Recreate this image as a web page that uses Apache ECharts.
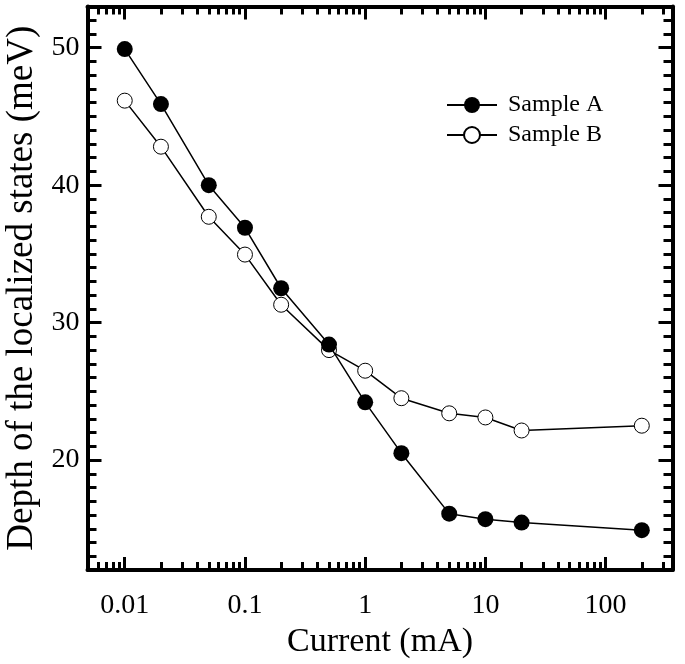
<!DOCTYPE html>
<html><head><meta charset="utf-8">
<script src="https://cdn.jsdelivr.net/npm/echarts@6/dist/echarts.min.js"></script>
<style>html,body{margin:0;padding:0;background:#fff}#c{width:685px;height:664px}</style>
</head><body><div id="c"></div>
<script>
const currents = [0.01, 0.02, 0.05, 0.1, 0.2, 0.5, 1, 2, 5, 10, 20, 200];
const sampleA = [49.9, 45.9, 40.0, 36.9, 32.5, 28.4, 24.2, 20.5, 16.1, 15.7, 15.45, 14.9];
const sampleB = [46.15, 42.8, 37.7, 34.95, 31.3, 28.0, 26.5, 24.5, 23.4, 23.1, 22.15, 22.5];
const xMajorTicks = [0.01, 0.1, 1, 10, 100];
const xMajorLabels = ['0.01', '0.1', '1', '10', '100'];
const xMinorTicks = [0.005, 0.006, 0.007, 0.008, 0.009,
  0.02, 0.03, 0.04, 0.05, 0.06, 0.07, 0.08, 0.09,
  0.2, 0.3, 0.4, 0.5, 0.6, 0.7, 0.8, 0.9,
  2, 3, 4, 5, 6, 7, 8, 9,
  20, 30, 40, 50, 60, 70, 80, 90,
  200, 300];
const yMajorTicks = [20, 30, 40, 50];
const yMinorTicks = [13, 14, 15, 16, 17, 18, 19, 21, 22, 23, 24, 25, 26, 27, 28, 29,
  31, 32, 33, 34, 35, 36, 37, 38, 39, 41, 42, 43, 44, 45, 46, 47, 48, 49, 51, 52];

const FONT = '"Liberation Serif", "DejaVu Serif", serif';
const xMin = 0.0049, xMax = 360, yMin = 12, yMax = 53;

function xLabel(v) {
  let best = 0, bd = Infinity;
  xMajorTicks.forEach((t, i) => { const d = Math.abs(Math.log10(v) - Math.log10(t)); if (d < bd) { bd = d; best = i; } });
  return xMajorLabels[best];
}

function xAxisDef(pos, ticks, len, showLine, showLabel) {
  return {
    type: 'log', logBase: 10, min: xMin, max: xMax, position: pos,
    axisLine: { show: showLine, onZero: false, lineStyle: { color: '#000', width: 4 } },
    axisTick: { show: true, inside: true, length: len, customValues: ticks, lineStyle: { color: '#000', width: 3 } },
    axisLabel: { show: showLabel, customValues: ticks, margin: 22, formatter: xLabel,
      fontFamily: FONT, fontSize: 28, color: '#000' },
    splitLine: { show: false }, minorTick: { show: false }, minorSplitLine: { show: false },
    name: showLabel ? 'Current (mA)' : '', nameLocation: 'middle', nameGap: 50,
    nameTextStyle: { fontFamily: FONT, fontSize: 34, color: '#000' }
  };
}
function yAxisDef(pos, ticks, len, showLine, showLabel) {
  return {
    type: 'value', min: yMin, max: yMax, position: pos,
    axisLine: { show: showLine, onZero: false, lineStyle: { color: '#000', width: 4 } },
    axisTick: { show: true, inside: true, length: len, customValues: ticks, lineStyle: { color: '#000', width: 3 } },
    axisLabel: { show: showLabel, customValues: ticks, margin: 8,
      fontFamily: FONT, fontSize: 28, color: '#000' },
    splitLine: { show: false },
    name: showLabel ? 'Depth of the localized states (meV)' : '', nameLocation: 'middle', nameGap: 34,
    nameTextStyle: { fontFamily: FONT, fontSize: 37, color: '#000' }
  };
}

const chart = echarts.init(document.getElementById('c'), null, { renderer: 'canvas' });
chart.setOption({
  animation: false,
  backgroundColor: '#fff',
  grid: { left: 87.5, right: 12.5, top: 6.5, bottom: 94, containLabel: false, outerBoundsMode: 'none' },
  legend: {
    data: ['Sample A', 'Sample B'], orient: 'vertical', left: 441, top: 88,
    itemWidth: 50, itemHeight: 20, itemGap: 6,
    textStyle: { fontFamily: FONT, fontSize: 24, color: '#000', lineHeight: 23, padding: [0, 0, 0, 6] }
  },
  xAxis: [
    xAxisDef('bottom', xMajorTicks, 13, true, true),
    xAxisDef('bottom', xMinorTicks, 8, false, false),
    xAxisDef('top', xMajorTicks, 13, true, false),
    xAxisDef('top', xMinorTicks, 8, false, false)
  ],
  yAxis: [
    yAxisDef('left', yMajorTicks, 14, true, true),
    yAxisDef('left', yMinorTicks, 9, false, false),
    yAxisDef('right', yMajorTicks, 14, true, false),
    yAxisDef('right', yMinorTicks, 9, false, false)
  ],
  series: [
    {
      name: 'Sample A', type: 'line', xAxisIndex: 0, yAxisIndex: 0,
      data: currents.map((c, i) => [c, sampleA[i]]),
      symbol: 'circle', symbolSize: 16,
      itemStyle: { color: '#000', borderColor: '#000', borderWidth: 0 },
      lineStyle: { color: '#000', width: 1.5 }, z: 3
    },
    {
      name: 'Sample B', type: 'line', xAxisIndex: 0, yAxisIndex: 0,
      data: currents.map((c, i) => [c, sampleB[i]]),
      symbol: 'circle', symbolSize: 15,
      itemStyle: { color: '#fff', borderColor: '#000', borderWidth: 1 },
      lineStyle: { color: '#000', width: 1.5 }, z: 2
    }
  ]
});
</script>
</body></html>
